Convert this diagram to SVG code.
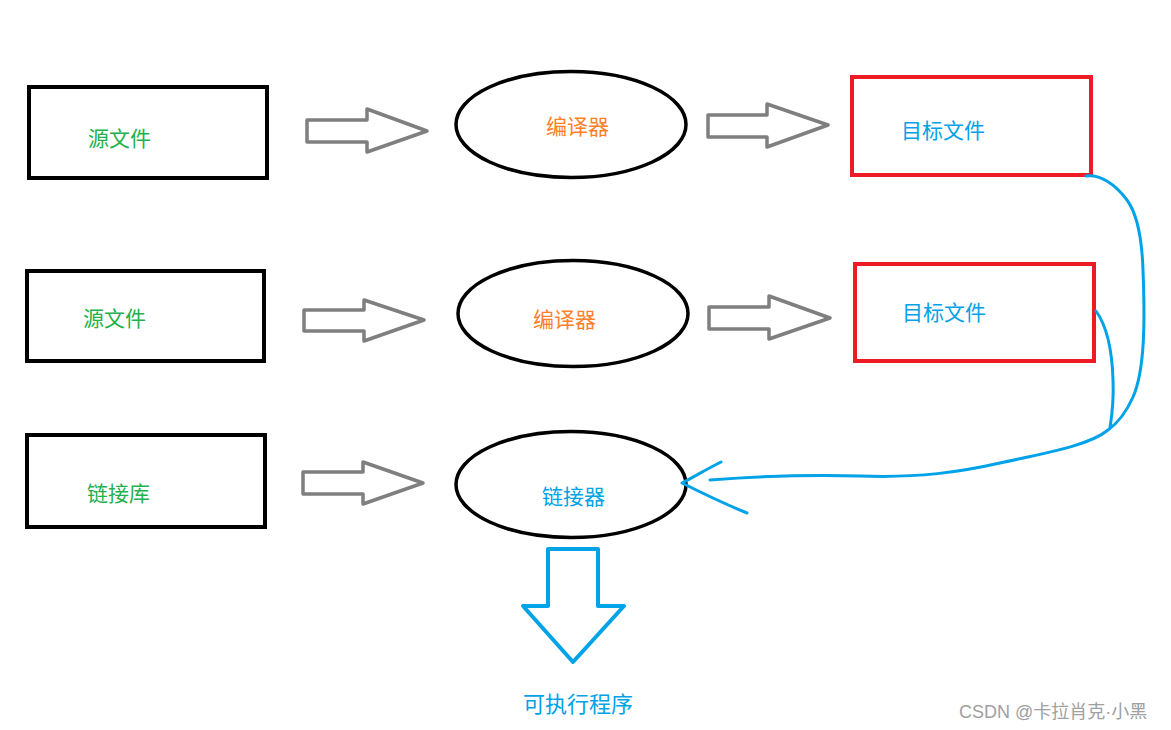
<svg xmlns="http://www.w3.org/2000/svg" width="1171" height="730" viewBox="0 0 1171 730">
<style>
.box{fill:none;stroke:#000;stroke-width:4}
.tgt{fill:none;stroke:#ed1c24;stroke-width:4}
.ell{fill:none;stroke:#000;stroke-width:3.5}
.arr{fill:none;stroke:#7f7f7f;stroke-width:3.5;stroke-linejoin:round}
.blue{fill:none;stroke:#00a2e8;stroke-width:3;stroke-linecap:round;stroke-linejoin:round}
text{font-family:"Noto Sans CJK SC","Microsoft YaHei",sans-serif;font-size:21px}
.g{fill:#22b14c}.o{fill:#ff7f27}.b{fill:#00a2e8}
</style>
<rect width="1171" height="730" fill="#fff"/>
<g id="src1"><rect class="box" x="29" y="87" width="238" height="91"/><text class="g" x="88" y="146">源文件</text></g>
<g id="comp1"><ellipse class="ell" cx="571" cy="124.5" rx="115" ry="53"/><text class="o" x="546" y="134">编译器</text></g>
<g id="obj1"><rect class="tgt" x="852" y="77" width="239" height="98"/><text class="b" x="901" y="138">目标文件</text></g>
<g id="src2"><rect class="box" x="27" y="271" width="237" height="90"/><text class="g" x="83" y="326">源文件</text></g>
<g id="comp2"><ellipse class="ell" cx="573" cy="313.5" rx="115" ry="53"/><text class="o" x="533" y="327">编译器</text></g>
<g id="obj2"><rect class="tgt" x="855" y="264" width="239" height="97"/><text class="b" x="902" y="320">目标文件</text></g>
<g id="lib"><rect class="box" x="27" y="435" width="238" height="92"/><text class="g" x="87" y="501">链接库</text></g>
<g id="linker"><ellipse class="ell" cx="571" cy="484.5" rx="115" ry="53"/><text class="b" x="542" y="504">链接器</text></g>
<g id="exe"><text class="b" x="523" y="712" style="font-size:22px">可执行程序</text></g>
<g id="connectors">
<polygon class="arr" points="307,120 367,120 367,109 427,131 367,152 367,142 307,142"/>
<polygon class="arr" points="708,115 767,115 767,104 828,125 767,147 767,137 708,137"/>
<polygon class="arr" points="304,310 364,310 364,300 424,320 364,341 364,331 304,331"/>
<polygon class="arr" points="709,307 769,307 769,296 830,318 769,339 769,329 709,329"/>
<polygon class="arr" points="303,472 363,472 363,462 423,483 363,504 363,494 303,494"/>
<polygon points="548,549 598,549 598,606 624,606 573,662 523,606 548,606" fill="none" stroke="#00a2e8" stroke-width="4" stroke-linejoin="round"/>
<path class="blue" d="M1086,176 C1100,174 1115,184 1127,200 C1138,215 1142,240 1143,270 C1145,320 1145,370 1133,397 C1125,415 1115,425 1108,430 C1090,445 1050,452 1000,463 C960,472 920,478 860,476 C800,474 750,477 710,480"/>
<path class="blue" d="M1096,311 C1106,325 1112,345 1113,380 C1114,400 1112,415 1110,428"/>
<path class="blue" d="M721,462 C705,470 692,478 682,483 C700,492 720,502 747,513"/>
</g>
<text x="959" y="718" fill="#a0a0a0" style="font-family:'Liberation Sans','Noto Sans CJK SC',sans-serif;font-size:18px">CSDN @卡拉肖克·小黑</text>
</svg>
